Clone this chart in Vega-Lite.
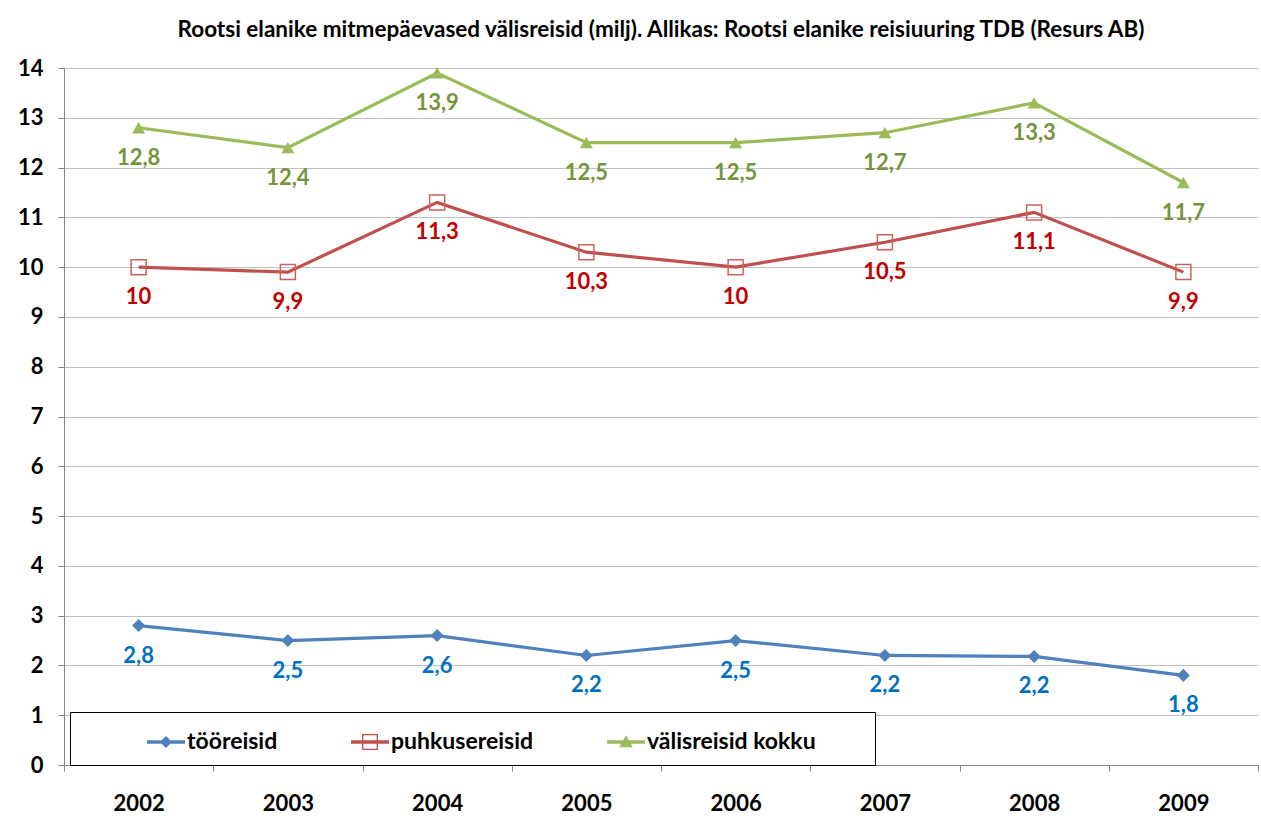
{
  "$schema": "https://vega.github.io/schema/vega-lite/v6.json",
  "width": 1194,
  "height": 697,
  "autosize": "none",
  "padding": {"left": 64, "top": 68, "right": 3, "bottom": 56},
  "background": "white",
  "title": {
    "text": "Rootsi elanike mitmepäevased välisreisid (milj). Allikas: Rootsi elanike reisiuuring TDB (Resurs AB)",
    "font": "Lato",
    "fontSize": 22.5,
    "fontWeight": "bold",
    "color": "black",
    "anchor": "middle",
    "offset": 16
  },
  "data": {
    "values": [
      {"year": "2002", "series": "tööreisid", "value": 2.8},
      {"year": "2003", "series": "tööreisid", "value": 2.5},
      {"year": "2004", "series": "tööreisid", "value": 2.6},
      {"year": "2005", "series": "tööreisid", "value": 2.2},
      {"year": "2006", "series": "tööreisid", "value": 2.5},
      {"year": "2007", "series": "tööreisid", "value": 2.2},
      {"year": "2008", "series": "tööreisid", "value": 2.18},
      {"year": "2009", "series": "tööreisid", "value": 1.8},
      {"year": "2002", "series": "puhkusereisid", "value": 10},
      {"year": "2003", "series": "puhkusereisid", "value": 9.9},
      {"year": "2004", "series": "puhkusereisid", "value": 11.3},
      {"year": "2005", "series": "puhkusereisid", "value": 10.3},
      {"year": "2006", "series": "puhkusereisid", "value": 10},
      {"year": "2007", "series": "puhkusereisid", "value": 10.5},
      {"year": "2008", "series": "puhkusereisid", "value": 11.1},
      {"year": "2009", "series": "puhkusereisid", "value": 9.9},
      {"year": "2002", "series": "välisreisid kokku", "value": 12.8},
      {"year": "2003", "series": "välisreisid kokku", "value": 12.4},
      {"year": "2004", "series": "välisreisid kokku", "value": 13.9},
      {"year": "2005", "series": "välisreisid kokku", "value": 12.5},
      {"year": "2006", "series": "välisreisid kokku", "value": 12.5},
      {"year": "2007", "series": "välisreisid kokku", "value": 12.7},
      {"year": "2008", "series": "välisreisid kokku", "value": 13.3},
      {"year": "2009", "series": "välisreisid kokku", "value": 11.7}
    ]
  },
  "encoding": {
    "x": {
      "field": "year",
      "type": "ordinal",
      "scale": {"type": "band", "paddingInner": 0, "paddingOuter": 0},
      "axis": {
        "title": null,
        "labelAngle": 0,
        "tickBand": "extent",
        "grid": false,
        "domainColor": "#868686",
        "tickColor": "#868686",
        "tickSize": 6,
        "labelFont": "Lato",
        "labelFontSize": 22,
        "labelFontWeight": "bold",
        "labelColor": "black",
        "labelPadding": 22
      }
    },
    "y": {
      "field": "value",
      "type": "quantitative",
      "scale": {"domain": [0, 14], "nice": false, "zero": true},
      "axis": {
        "title": null,
        "values": [0, 1, 2, 3, 4, 5, 6, 7, 8, 9, 10, 11, 12, 13, 14],
        "grid": true,
        "gridColor": "#C0C0C0",
        "domainColor": "#868686",
        "tickColor": "#868686",
        "tickSize": 6,
        "labelFont": "Lato",
        "labelFontSize": 22,
        "labelFontWeight": "bold",
        "labelColor": "black",
        "labelPadding": 15
      }
    }
  },
  "layer": [
    {
      "mark": {"type": "line", "strokeWidth": 3.2},
      "encoding": {
        "color": {
          "field": "series",
          "type": "nominal",
          "scale": {
            "domain": ["tööreisid", "puhkusereisid", "välisreisid kokku"],
            "range": ["#4F81BD", "#C0504D", "#9BBB59"]
          },
          "legend": {
            "title": "\u00a0",
            "titleOrient": "left",
            "titlePadding": 66,
            "orient": "none",
            "legendX": 6,
            "legendY": 644,
            "direction": "horizontal",
            "columnPadding": 73,
            "padding": 11,
            "strokeColor": "black",
            "fillColor": "white",
            "labelFont": "Lato",
            "labelFontSize": 23,
            "labelFontWeight": "bold",
            "labelColor": "black",
            "labelLimit": 600,
            "labelOffset": 2,
            "symbolSize": 1444,
            "encode": {
              "symbols": {
                "update": {
                  "shape": {"signal": "datum.value === 'tööreisid' ? 'M-1,-0.09H1V0.09H-1Z M0,-0.32L0.32,0L0,0.32L-0.32,0Z' : datum.value === 'puhkusereisid' ? 'M-1,-0.09H1V0.09H-1Z M-0.42,-0.42H0.42V0.42H-0.42Z M-0.35,-0.35V0.35H0.35V-0.35Z' : 'M-1,-0.09H1V0.09H-1Z M0,-0.36L0.36,0.28L-0.36,0.28Z M12.5,0'"},
                  "fill": {"scale": "color", "field": "value"},
                  "stroke": {"value": "transparent"},
                  "strokeWidth": {"value": 0},
                  "opacity": {"value": 1}
                }
              }
            }
          }
        }
      }
    },
    {
      "transform": [{"filter": "datum.series !== 'puhkusereisid'"}],
      "mark": {"type": "point", "filled": true, "opacity": 1, "size": 170},
      "encoding": {
        "color": {"field": "series", "type": "nominal"},
        "shape": {
          "field": "series",
          "type": "nominal",
          "scale": {"domain": ["tööreisid", "välisreisid kokku"], "range": ["diamond", "triangle-up"]},
          "legend": null
        }
      }
    },
    {
      "transform": [{"filter": "datum.series === 'puhkusereisid'"}],
      "mark": {"type": "point", "shape": "square", "filled": false, "color": "#D0605D", "strokeWidth": 1.5, "size": 225, "opacity": 1}
    },
    {
      "mark": {"type": "text", "dy": 30, "baseline": "middle", "font": "Lato", "fontSize": 22, "fontWeight": "bold"},
      "encoding": {
        "text": {"field": "value", "type": "quantitative", "format": ".1~f"},
        "fill": {
          "field": "series",
          "type": "nominal",
          "scale": {
            "domain": ["tööreisid", "puhkusereisid", "välisreisid kokku"],
            "range": ["#0070C0", "#C00000", "#77933C"]
          },
          "legend": null
        }
      }
    }
  ],
  "config": {
    "view": {"stroke": null},
    "locale": {
      "number": {"decimal": ",", "thousands": "\u00a0", "grouping": [3], "currency": ["", " €"]}
    }
  }
}
